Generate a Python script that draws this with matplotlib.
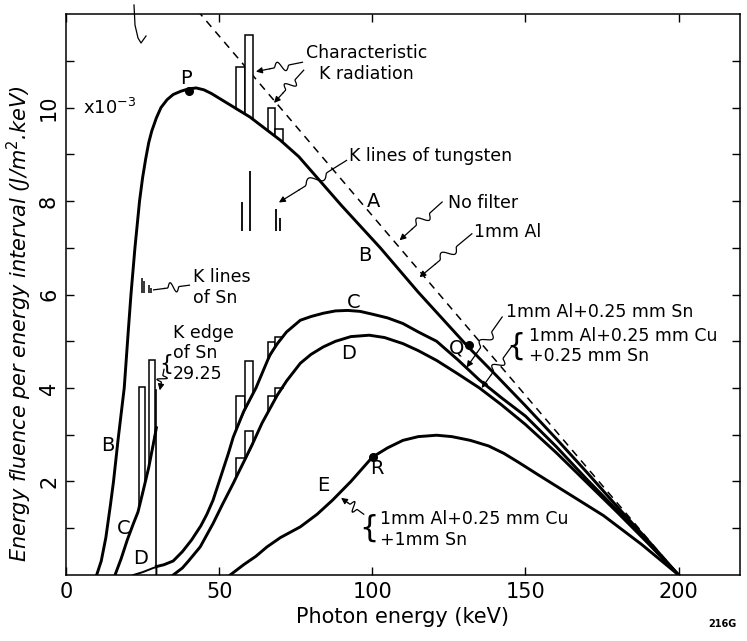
import matplotlib
matplotlib.use("Agg")
import matplotlib.pyplot as plt
from matplotlib.lines import Line2D
import numpy as np

# ---- data (keV, 10^-3 J/m^2.keV) ----
# A: no filter (dashed, straight Kramers line)
energy_a = [40, 200]
fluence_a = [12.3, 0]

# B: 1mm Al
energy_b = [10, 11.5, 13, 14.5, 15.5, 17, 18, 19, 20.3, 21.2, 22.5, 24, 25, 26, 27, 28,
            29.5, 31, 33, 35, 37.5, 40, 42.5, 45, 47.5, 50, 55, 60, 66, 70, 76, 82, 90,
            102.6, 115, 131, 140, 150, 160, 170, 180, 190, 200]
fluence_b = [0, 0.3, 0.8, 1.5, 2.0, 2.9, 3.45, 4.0, 5.2, 6.0, 7.0, 8.0, 8.5, 8.9, 9.25, 9.5,
             9.78, 10.0, 10.17, 10.28, 10.35, 10.4, 10.42, 10.38, 10.3, 10.2, 10.0, 9.8, 9.5,
             9.3, 8.95, 8.5, 7.9, 7.0, 6.05, 4.9, 4.3, 3.62, 2.92, 2.2, 1.46, 0.74, 0]

# C: 1mm Al + 0.25mm Sn (below and above the Sn K edge)
energy_c_low = [16, 18, 20, 22, 23.5, 25, 27, 28.5, 29.5]
fluence_c_low = [0, 0.35, 0.75, 1.1, 1.35, 1.75, 2.3, 2.8, 3.15]
energy_c = [29.5, 32, 35, 38, 41, 44, 46, 48, 51, 53, 54.6, 58, 62, 66.5, 69, 72, 76.5,
            80, 84, 88, 92, 96, 100, 105, 110, 115, 121, 128, 135, 142, 150, 160, 170,
            180, 190, 200]
fluence_c = [0.18, 0.22, 0.3, 0.5, 0.75, 1.05, 1.3, 1.6, 2.2, 2.6, 2.95, 3.5, 4.0, 4.7,
             4.95, 5.2, 5.45, 5.53, 5.6, 5.65, 5.66, 5.64, 5.58, 5.5, 5.38, 5.2, 5.0, 4.6,
             4.17, 3.8, 3.4, 2.75, 2.05, 1.38, 0.7, 0]
k_edge_energy = 29.5
k_edge_peak = 3.95

# D: 1mm Al + 0.25mm Cu + 0.25mm Sn
energy_d_low = [22, 25, 28.5, 29.5, 29.5]
fluence_d_low = [0, 0.06, 0.15, 0.17, 0]
energy_d = [35, 38, 40, 43.8, 48, 51, 54.6, 56, 59, 61, 64, 66.5, 69, 72, 76.5, 80, 84,
            88, 93, 99, 104, 110, 115, 121, 128, 135, 142, 150, 160, 170, 180, 190, 200]
fluence_d = [0, 0.15, 0.3, 0.6, 1.1, 1.5, 1.96, 2.15, 2.55, 2.82, 3.25, 3.55, 3.85, 4.15,
             4.53, 4.72, 4.88, 5.0, 5.1, 5.13, 5.08, 4.95, 4.8, 4.59, 4.3, 4.0, 3.65, 3.22,
             2.62, 1.98, 1.34, 0.68, 0]

# E: 1mm Al + 0.25mm Cu + 1mm Sn
energy_e = [53.6, 58, 62, 65.6, 70, 76.5, 82, 87, 93, 100, 105, 110, 115, 121, 126, 132,
            138, 143, 148, 154, 165, 175.5, 188, 200]
fluence_e = [0, 0.22, 0.4, 0.6, 0.8, 1.03, 1.3, 1.6, 2.0, 2.52, 2.72, 2.88, 2.96, 2.99,
             2.96, 2.88, 2.76, 2.6, 2.4, 2.15, 1.7, 1.27, 0.65, 0]

# characteristic radiation bins (tungsten K and tin K)
w_left = [55.6, 58.3, 65.9, 68.3]
w_right = [58.3, 60.9, 68.3, 70.7]
w_tops_b = [10.86, 11.55, 10.0, 9.55]
w_tops_c = [3.82, 4.57, 4.98, 5.1]
w_tops_d = [2.5, 3.08, 3.82, 4.0]
sn_left = [23.9, 27.1]
sn_right = [25.8, 29.1]
sn_tops_c = [4.02, 4.6]

# small line spectra drawn as keys
w_line_e = [57.3, 60.2, 68.4, 69.7]
w_line_top = [7.98, 8.65, 7.84, 7.63]
w_line_base = 7.35
sn_line_e = [24.8, 25.6, 27.0, 27.8]
sn_line_top = [6.35, 6.3, 6.2, 6.15]
sn_line_base = 6.03

# marked points
points = {"P": (40, 10.35), "Q": (131.5, 4.93), "R": (100.3, 2.52)}

plt.rcParams['font.family'] = ['DejaVu Sans']

fig = plt.figure(figsize=(7.47, 6.41), dpi=100)
ax = fig.add_axes([0.0884, 0.103, 0.902, 0.875])
ax.set_xlim(0, 220)
ax.set_ylim(0, 12)

lw_curve = 2.1


def bars(lefts, rights, tops, curve_x, curve_y):
    # rectangles standing on a spectrum curve
    for x0, x1, top in zip(lefts, rights, tops):
        y0 = np.interp(x0, curve_x, curve_y)
        y1 = np.interp(x1, curve_x, curve_y)
        ax.fill([x0, x0, x1, x1], [y0, top, top, y1], facecolor='white',
                edgecolor='k', lw=1.1, zorder=3)


def squiggle(start, end, head=True):
    # wavy leader line from a label to its curve
    p0 = ax.transData.transform(start)
    p1 = ax.transData.transform(end)
    d = p1 - p0
    length = np.hypot(d[0], d[1])
    n = np.array([-d[1], d[0]]) / length
    t = np.linspace(0, 0.7, 40)
    wave = np.where((t > 0.3) & (t < 0.6), np.sin((t - 0.3) / 0.3 * 2 * np.pi), 0)
    pts = p0 + np.outer(t, d) + np.outer(wave * 5, n)
    pts = ax.transData.inverted().transform(pts)
    ax.plot(pts[:, 0], pts[:, 1], color='k', lw=0.9, zorder=5)
    if head:
        ax.annotate('', xy=end, xytext=pts[-1],
                    arrowprops=dict(arrowstyle='-|>', color='k', lw=0.9,
                                    mutation_scale=9, shrinkA=0, shrinkB=0),
                    zorder=5)
    else:
        ax.plot([pts[-1, 0], end[0]], [pts[-1, 1], end[1]], color='k', lw=0.9)


ax.plot(energy_a, fluence_a, color='k', lw=1.1, ls=(0, (5, 4)), zorder=2)

bars(w_left, w_right, w_tops_b, energy_b, fluence_b)
bars(w_left, w_right, w_tops_c, energy_c, fluence_c)
bars(w_left, w_right, w_tops_d, energy_d, fluence_d)
bars(sn_left, sn_right, sn_tops_c, energy_c_low, fluence_c_low)

ax.plot(energy_b, fluence_b, color='k', lw=lw_curve, zorder=4)
ax.plot(energy_c_low, fluence_c_low, color='k', lw=lw_curve, zorder=4)
ax.plot(energy_c, fluence_c, color='k', lw=lw_curve, zorder=4)
ax.plot([k_edge_energy, k_edge_energy], [k_edge_peak, fluence_c[0]], color='k', lw=1.2, zorder=4)
ax.plot(energy_d_low, fluence_d_low, color='k', lw=1.4, zorder=4)
ax.plot(energy_d, fluence_d, color='k', lw=lw_curve, zorder=4)
ax.plot(energy_e, fluence_e, color='k', lw=lw_curve, zorder=4)

ax.vlines(w_line_e, w_line_base, w_line_top, color='k', lw=1.3)
ax.vlines(sn_line_e, sn_line_base, sn_line_top, color='k', lw=1.1)

for name, (px, py) in points.items():
    ax.plot(px, py, 'o', color='k', ms=5.5, zorder=6)

# labels
fs = 12.5
ax.text(39, 10.62, 'P', fontsize=14, ha='center', va='center')
ax.text(127.5, 4.85, 'Q', fontsize=14, ha='center', va='center')
ax.text(101.5, 2.27, 'R', fontsize=14, ha='center', va='center')
ax.text(100.3, 8.0, 'A', fontsize=14, ha='center', va='center')
ax.text(97.7, 6.84, 'B', fontsize=14, ha='center', va='center')
ax.text(93.8, 5.83, 'C', fontsize=14, ha='center', va='center')
ax.text(92.1, 4.74, 'D', fontsize=14, ha='center', va='center')
ax.text(13.8, 2.78, 'B', fontsize=14, ha='center', va='center')
ax.text(18.7, 1.0, 'C', fontsize=14, ha='center', va='center')
ax.text(24.3, 0.36, 'D', fontsize=14, ha='center', va='center')
ax.text(83.9, 1.92, 'E', fontsize=14, ha='center', va='center')

ax.text(5.5, 10.0, r'x10$^{-3}$', fontsize=13, ha='left', va='center')

ax.text(78.2, 10.95, 'Characteristic\nK radiation', fontsize=fs, ha='left', va='center',
        multialignment='center')
squiggle((77.2, 10.97), (62, 10.77))
squiggle((77.6, 10.8), (67.9, 10.1))

ax.text(92.3, 8.97, 'K lines of tungsten', fontsize=fs, ha='left', va='center')
squiggle((91.6, 8.87), (69.5, 7.97))

ax.text(124.6, 7.95, 'No filter', fontsize=fs, ha='left', va='center')
squiggle((122.8, 7.98), (108.9, 7.16))

ax.text(133.3, 7.33, '1mm Al', fontsize=fs, ha='left', va='center')
squiggle((132.5, 7.3), (115.4, 6.37))

ax.text(41.5, 6.15, 'K lines\nof Sn', fontsize=fs, ha='left', va='center')
squiggle((40.3, 6.2), (28.6, 6.1), head=False)

ax.text(143.5, 5.62, '1mm Al+0.25 mm Sn', fontsize=fs, ha='left', va='center')
squiggle((142.4, 5.52), (130.8, 4.44))

ax.text(147.0, 4.9, '{', fontsize=22, ha='center', va='center')
ax.text(151.0, 4.9, '1mm Al+0.25 mm Cu\n+0.25 mm Sn', fontsize=fs, ha='left', va='center')
squiggle((145.6, 4.9), (135.7, 4.0))

ax.text(35.0, 4.74, 'K edge\nof Sn\n29.25', fontsize=fs, ha='left', va='center')
ax.text(32.6, 4.52, '{', fontsize=16, ha='center', va='center')
squiggle((32.0, 4.4), (30.6, 3.95))

ax.text(98.8, 1.0, '{', fontsize=22, ha='center', va='center')
ax.text(102.6, 0.98, '1mm Al+0.25 mm Cu\n+1mm Sn', fontsize=fs, ha='left', va='center')
squiggle((97.2, 1.3), (89.8, 1.65))

# axes styling
ax.set_xticks([0, 50, 100, 150, 200])
ax.set_yticks([2, 4, 6, 8, 10])
ax.set_yticks([1, 3, 5, 7, 9, 11], minor=True)
ax.tick_params(which='both', direction='in', top=True, right=True, width=1.0, length=6,
               labelsize=15, pad=5)
for lab in ax.get_yticklabels():
    lab.set_rotation(90)
    lab.set_va('center')
for sp in ax.spines.values():
    sp.set_linewidth(1.1)

ax.set_xlabel('Photon energy (keV)', fontsize=15, labelpad=4)
ax.set_ylabel(r'Energy fluence per energy interval (J/m$^2$.keV)', fontsize=15,
              fontstyle='italic', labelpad=6)
ax.yaxis.set_label_coords(-0.047, 0.447)

# stray pen mark at the top of the scan
fig.add_artist(Line2D([134 / 747, 135 / 747, 138 / 747, 141 / 747, 146 / 747],
                      [1 - 5 / 641, 1 - 25 / 641, 1 - 38 / 641, 1 - 43 / 641, 1 - 36 / 641],
                      color='k', lw=0.9))

fig.text(0.967, 0.022, '216G', fontsize=7, fontweight='bold', ha='center')

plt.savefig('out.png', dpi=100)
